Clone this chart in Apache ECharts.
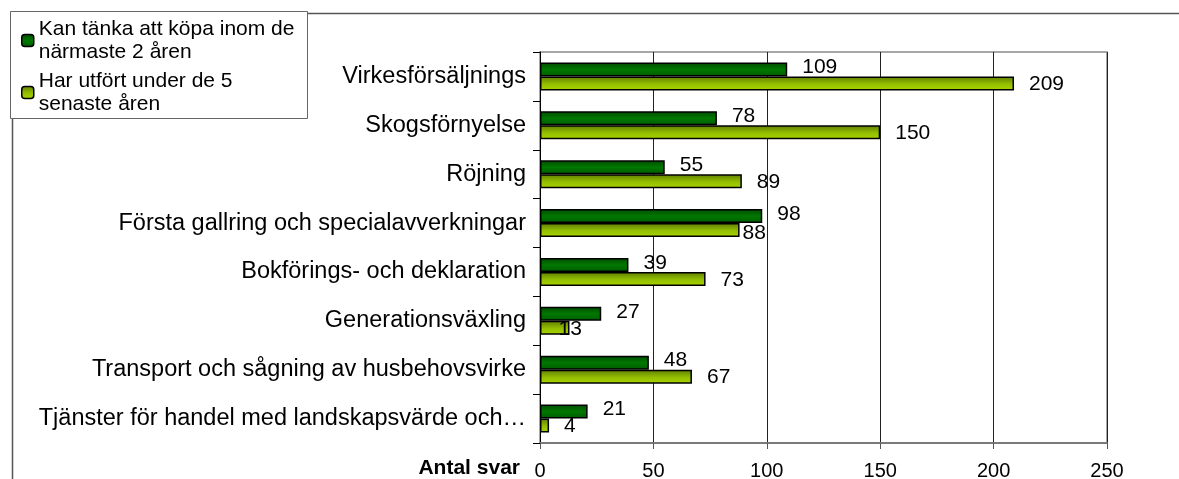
<!DOCTYPE html>
<html>
<head>
<meta charset="utf-8">
<script src="https://cdn.jsdelivr.net/npm/echarts@6/dist/echarts.min.js"></script>
<style>
  html, body { margin: 0; padding: 0; background: #fff; }
  #chart { width: 1179px; height: 479px; }
</style>
</head>
<body>
<div id="chart"></div>
<script>
const categories = [
  'Virkesförsäljnings',
  'Skogsförnyelse',
  'Röjning',
  'Första gallring och specialavverkningar',
  'Bokförings- och deklaration',
  'Generationsväxling',
  'Transport och sågning av husbehovsvirke',
  'Tjänster för handel med landskapsvärde och…'
]
const planned = [109, 78, 55, 98, 39, 27, 48, 21]
const done = [209, 150, 89, 88, 73, 13, 67, 4]
const seriesNames = ['Kan tänka att köpa inom de\nnärmaste 2 åren', 'Har utfört under de 5\nsenaste åren']
const xTicks = [0, 50, 100, 150, 200, 250]

const font = "'Liberation Sans', Arial, sans-serif"

const grad = (stops) => ({
  type: 'linear', x: 0, y: 0, x2: 0, y2: 1,
  colorStops: stops.map(([offset, color]) => ({ offset, color }))
})
const darkFill = grad([[0, '#004a00'], [0.5, '#007800'], [1, '#005c00']])
const lightFill = grad([[0, '#5f7d00'], [0.55, '#93bf00'], [1, '#a9d400']])

// a couple of labels were moved by hand in the original chart
const labelNudge = { 3: [-12, 3], 5: [-26, 1] }

const chart = echarts.init(document.getElementById('chart'))

const barSeries = (name, values, fill, dy, nudge = {}) => ({
  name,
  type: 'bar',
  data: values.map((v, i) => (nudge[i] ? { value: v, label: { offset: nudge[i] } } : v)),
  barWidth: 14,
  barGap: '0%',
  itemStyle: { color: fill, borderColor: '#000', borderWidth: 1.5 },
  label: {
    show: true,
    position: 'right',
    distance: 15,
    offset: [0, dy],
    color: '#000',
    fontSize: 21,
    fontFamily: font
  },
  emphasis: { disabled: true }
})

chart.setOption({
  animation: false,
  textStyle: { fontFamily: font, color: '#000' },
  graphic: [
    {
      // outer chart frame
      type: 'rect',
      left: 10, top: 11,
      shape: { width: 1400, height: 700 },
      style: { fill: 'none', stroke: '#555', lineWidth: 1.5 },
      z: -10
    },
    {
      // legend box
      type: 'rect',
      left: 10, top: 11,
      shape: { x: 0, y: 0, width: 297, height: 107 },
      style: { fill: '#fff', stroke: '#666', lineWidth: 1 },
      z: -5
    }
  ],
  legend: {
    orient: 'vertical',
    left: 21,
    top: 6,
    padding: 0,
    itemGap: -17,
    itemWidth: 12,
    itemHeight: 12,
    itemStyle: { borderColor: '#000', borderWidth: 1.5 },
    textStyle: {
      fontSize: 21,
      lineHeight: 23,
      color: '#000',
      fontFamily: font,
      padding: [23, 0, 0, 0]
    },
    data: seriesNames
  },
  grid: {
    left: 540,
    right: 72,
    top: 52,
    bottom: 36,
    containLabel: false,
    outerBoundsMode: 'none',
    show: true,
    borderColor: '#8a8a8a',
    borderWidth: 1.5
  },
  xAxis: {
    type: 'value',
    min: xTicks[0],
    max: xTicks[xTicks.length - 1],
    interval: 50,
    name: 'Antal svar',
    nameLocation: 'start',
    nameGap: 20,
    nameTextStyle: {
      fontSize: 21,
      fontWeight: 'bold',
      color: '#000',
      fontFamily: font,
      verticalAlign: 'top',
      padding: [15, 0, 0, 0]
    },
    axisLine: { show: true, lineStyle: { color: '#7a7a7a', width: 2 } },
    axisTick: { show: true, length: 6, lineStyle: { color: '#555' } },
    axisLabel: { fontSize: 20, color: '#000', margin: 18, fontFamily: font },
    splitLine: { show: true, lineStyle: { color: '#222', width: 1 } }
  },
  yAxis: {
    type: 'category',
    inverse: true,
    data: categories,
    axisLine: { show: true, lineStyle: { color: '#000', width: 1 } },
    axisTick: { show: true, length: 7, lineStyle: { color: '#000' } },
    axisLabel: { fontSize: 23.5, color: '#000', margin: 14, fontFamily: font }
  },
  series: [
    barSeries(seriesNames[0], planned, darkFill, -2),
    barSeries(seriesNames[1], done, lightFill, 1, labelNudge)
  ]
})
</script>
</body>
</html>
